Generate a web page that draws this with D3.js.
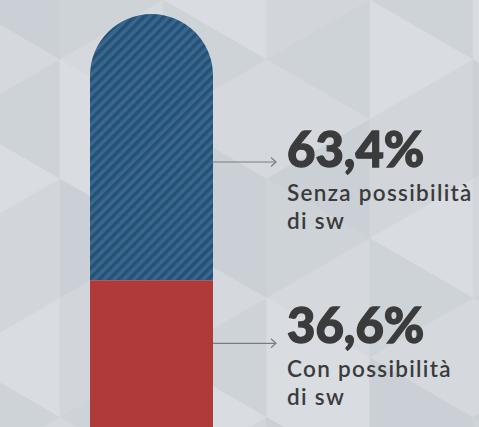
<!DOCTYPE html>
<html>
<head>
<meta charset="utf-8">
<script src="https://cdn.jsdelivr.net/npm/d3@7"></script>
<style>
  html, body { margin: 0; padding: 0; background: #d4d8dc; }
  svg { display: block; }
</style>
</head>
<body>
<svg id="chart" width="479" height="427"></svg>
<script>
// Data
const categories = ["Senza possibilità di sw", "Con possibilità di sw"];
const values = [63.4, 36.6];
const valueLabels = ["63,4%", "36,6%"];
const labelLines = [["Senza possibilità", "di sw"], ["Con possibilità", "di sw"]];

const W = 479, H = 427;
const svg = d3.select("#chart");

// background triangles
const bgShades = ["#d5d9dd", "#ced3d8", "#d9dce0", "#cbd0d6", "#d2d6db"];
const shade = n => bgShades[((n % 5) + 5) % 5];
const colW = 103.3, triH = colW * 2 / Math.sqrt(3), x0 = -43.3;
const tris = [];
for (let c = 0; c < 6; c++) {
    const xl = x0 + c * colW, xr = xl + colW;
    const offL = (c % 2) * triH / 2, offR = ((c + 1) % 2) * triH / 2;
    for (let k = -1; k < 5; k++) {
        const l0 = k * triH + offL, l1 = l0 + triH;
        const r0 = k * triH + offR, r1 = r0 + triH;
        if (offL === 0) {
            tris.push({pts: [[xl, l0], [xl, l1], [xr, r0]], s: c * 3 + k * 2});
            tris.push({pts: [[xl, l1], [xr, r0], [xr, r1]], s: c * 2 + k * 3 + 1});
        } else {
            tris.push({pts: [[xr, r0], [xr, r1], [xl, l0]], s: c * 3 + k * 2 + 2});
            tris.push({pts: [[xr, r1], [xl, l0], [xl, l1]], s: c * 4 + k + 3});
        }
    }
}
svg.append("g").selectAll("path").data(tris).join("path")
    .attr("d", d => "M" + d.pts.map(p => p.join(",")).join("L") + "Z")
    .attr("fill", d => shade(d.s))
    .attr("stroke", d => shade(d.s))
    .attr("stroke-width", 0.5);

// hatch pattern
const defs = svg.append("defs");
const pat = defs.append("pattern")
    .attr("id", "hatch")
    .attr("patternUnits", "userSpaceOnUse")
    .attr("width", 7).attr("height", 7)
    .attr("patternTransform", "rotate(45)");
pat.append("rect").attr("width", 7).attr("height", 7).attr("fill", "#3f6490");
pat.append("rect").attr("width", 3.5).attr("height", 7).attr("fill", "#1f5474");

// scales
const y = d3.scaleLinear().domain([0, 100]).range([434, 14]);
const x = d3.scaleBand().domain(["bar"]).range([90, 213]).padding(0);
const bw = x.bandwidth(), r = bw / 2;

// stack: blue on top, red at bottom
const colors = ["url(#hatch)", "#b0393a"];
let acc = 100;
const segs = values.map((v, i) => {
    const s = {top: acc, bottom: acc - v, fill: colors[i], i: i};
    acc -= v;
    return s;
});

// clip with rounded top
const bx = x("bar");
defs.append("clipPath").attr("id", "barClip")
    .append("path")
    .attr("d", `M${bx},${y(0)} L${bx},${y(100) + r} A${r},${r} 0 0 1 ${bx + bw},${y(100) + r} L${bx + bw},${y(0)} Z`);

svg.append("g").attr("clip-path", "url(#barClip)")
    .selectAll("rect").data(segs).join("rect")
    .attr("x", bx)
    .attr("y", d => y(d.top))
    .attr("width", bw)
    .attr("height", d => y(d.bottom) - y(d.top))
    .attr("fill", d => d.fill);

// labels + arrows
const arrowOffset = [148, 63];   // px below segment top
const textX = 287;
const lab = svg.append("g").selectAll("g").data(segs).join("g")
    .attr("transform", d => `translate(0,${y(d.top) + arrowOffset[d.i]})`);

lab.append("line")
    .attr("x1", bx + bw).attr("x2", 276)
    .attr("y1", 0).attr("y2", 0)
    .attr("stroke", "#7a7d80").attr("stroke-width", 1.2);
lab.append("path")
    .attr("d", "M271,-4.5L276,0L271,4.5")
    .attr("fill", "none").attr("stroke", "#7a7d80").attr("stroke-width", 1.2);

lab.append("text")
    .attr("x", textX)
    .attr("y", d => d.i === 0 ? 5 : 0)
    .attr("font-family", "Lato, sans-serif")
    .attr("font-weight", 900)
    .attr("font-size", 49)
    .attr("fill", "#3b3b3c")
    .attr("stroke", "#3b3b3c")
    .attr("stroke-width", 1.3)
    .text(d => valueLabels[d.i]);

lab.each(function(d) {
    const g = d3.select(this);
    const base = d.i === 0 ? 5 : 0;
    labelLines[d.i].forEach((t, j) => {
        g.append("text")
            .attr("x", textX)
            .attr("y", base + 34 + j * 28)
            .attr("font-family", "Lato, sans-serif")
            .attr("font-weight", 600)
            .attr("font-size", 22.5)
            .attr("letter-spacing", 1.3)
            .attr("fill", "#3b3b3c")
            .text(t);
    });
});
</script>
</body>
</html>
